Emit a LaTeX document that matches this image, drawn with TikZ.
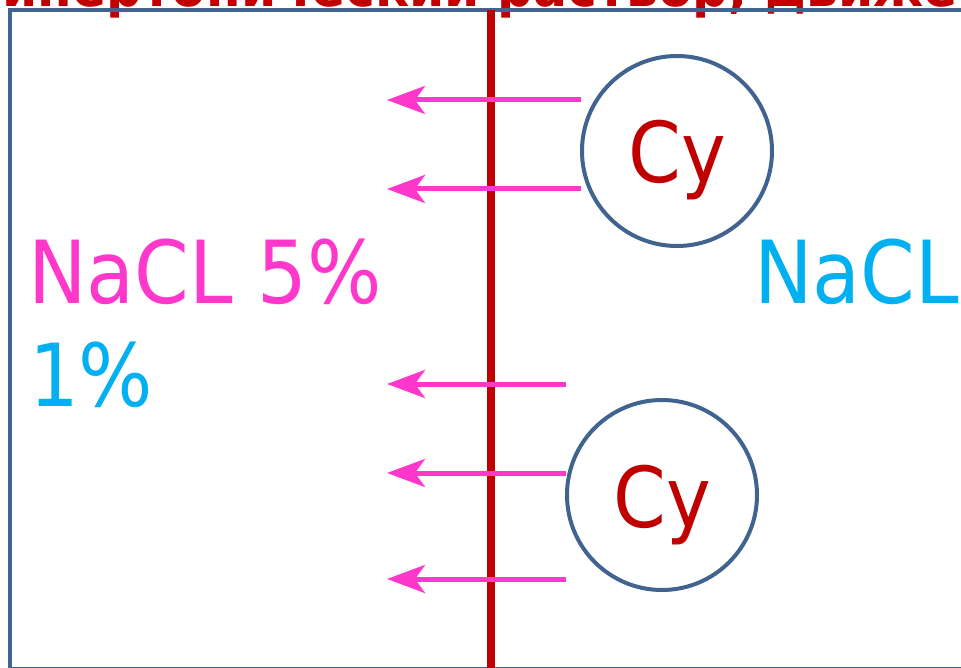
\documentclass[tikz,border=0pt]{standalone}
\usepackage{fontspec}
\setmainfont{DejaVu Sans Condensed}
\usetikzlibrary{arrows.meta}
\definecolor{boxblue}{HTML}{41638F}
\definecolor{memred}{HTML}{C00000}
\definecolor{flowpink}{HTML}{FF38CC}
\definecolor{saltcyan}{HTML}{00B0F0}
\tikzset{
  frame/.style={draw=boxblue, line width=4pt},
  membrane/.style={draw=memred, line width=8pt},
  flow/.style={draw=flowpink, line width=5pt,
    -{Stealth[length=38pt,width=28pt,inset=10pt]}},
  cellc/.style={circle, draw=boxblue, line width=4pt, minimum size=190pt, inner sep=0pt},
  cylabel/.style={text=memred, inner sep=0pt, font=\fontsize{84}{96}\selectfont},
  salt/.style={inner sep=0pt, font=\fontsize{87}{100}\selectfont},
  headline/.style={text=memred, inner sep=0pt, font=\bfseries\fontsize{56}{66}\selectfont}
}
\begin{document}
\begin{tikzpicture}[x=1pt,y=-1pt]
\useasboundingbox (0,0) rectangle (961,668);
\clip (0,0) rectangle (961,668);
% cut-off title
\node[headline, anchor=base west] (ttl) at (-30,7) {Гипертонический раствор, движение воды};
% frame
\draw[frame] (10,10) rectangle (990,669);
% membrane
\coordinate (mtop) at (491,10);
\coordinate (mbot) at (491,690);
\draw[membrane] (mtop) -- (mbot);
% cells
\node[cellc] (c1) at (677,151) {};
\node[cellc] (c2) at (662,495) {};
\node[cylabel, anchor=base] (cy1) at (677,183) {Cy};
\node[cylabel, anchor=base] (cy2) at (662,527) {Cy};
% arrows
\coordinate (s1) at (581,100); \coordinate (e1) at (387,100);
\coordinate (s2) at (581,189); \coordinate (e2) at (387,189);
\coordinate (s3) at (566,384); \coordinate (e3) at (387,384);
\coordinate (s4) at (566,473); \coordinate (e4) at (387,473);
\coordinate (s5) at (566,579); \coordinate (e5) at (387,579);
\draw[flow] (s1) -- (e1);
\draw[flow] (s2) -- (e2);
\draw[flow] (s3) -- (e3);
\draw[flow] (s4) -- (e4);
\draw[flow] (s5) -- (e5);
% labels
\node[salt, text=flowpink, anchor=base west] (left1) at (28,304) {NaCL 5\%};
\node[salt, text=saltcyan, anchor=base west] (left2) at (29,406) {1\%};
\node[salt, text=saltcyan, anchor=base west] (right1) at (754,304) {NaCL};
\end{tikzpicture}
\end{document}
